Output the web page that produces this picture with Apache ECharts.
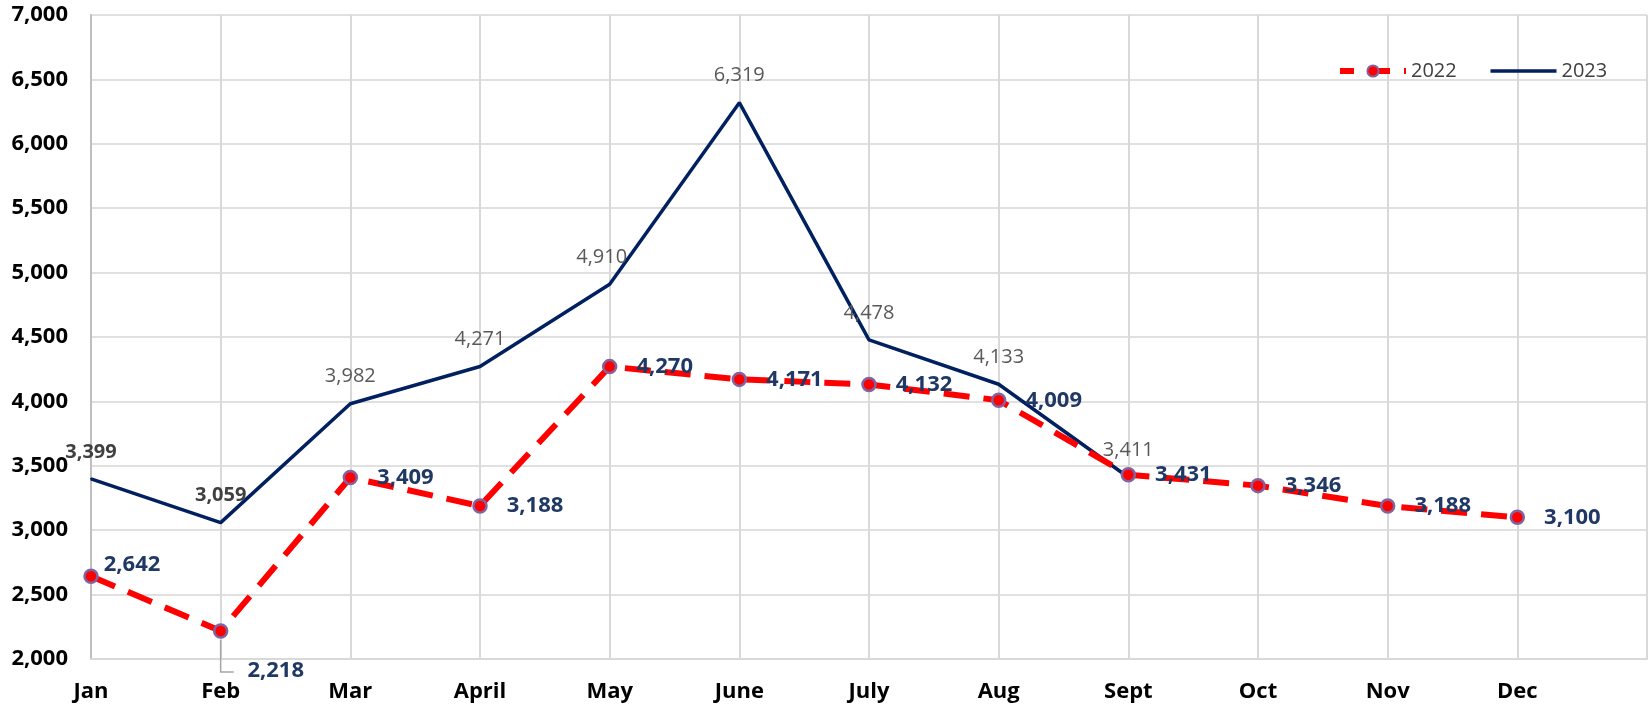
<!DOCTYPE html>
<html><head><meta charset="utf-8">
<script src="https://cdn.jsdelivr.net/npm/echarts@6/dist/echarts.min.js"></script>
<style>html,body{margin:0;padding:0;background:#fff}#c{width:1650px;height:709px}</style>
</head><body><div id="c"></div>
<script>
const months = ['Jan','Feb','Mar','April','May','June','July','Aug','Sept','Oct','Nov','Dec'];
const values2022 = [2642,2218,3409,3188,4270,4171,4132,4009,3431,3346,3188,3100];
const values2023 = [3399,3059,3982,4271,4910,6319,4478,4133,3411,null,null,null];
const seriesNames = ['2022','2023'];
const yMin = 2000, yMax = 7000, yStep = 500;

const fmt = v => Number(v).toLocaleString('en-US');
const FONT = '"Open Sans", Lato, sans-serif';

const chart = echarts.init(document.getElementById('c'), null, {renderer:'canvas'});
const cats = months.concat(['']);

const data2023 = values2023.map((v,i) => {
  const d = {value: v};
  if (i < 2) d.label = {fontWeight: 'bold', color: '#404040'};
  if (i === 4) d.label = {offset: [-8, 0]};
  return d;
});
const data2022 = values2022.map((v,i) => {
  const d = {value: v};
  if (i === 0) d.label = {offset: [-14, -12]};
  if (i === 1) d.label = {offset: [0, 40]};
  return d;
});

chart.setOption({
  animation: false,
  backgroundColor: '#ffffff',
  grid: {left: 91, top: 15, right: -2, bottom: 50, containLabel: false},
  legend: {
    top: 56, left: 1332,
    itemWidth: 66, itemHeight: 14, itemGap: 32,
    textStyle: {fontFamily: FONT, fontSize: 20, color: '#404040'},
    data: [
      {name: seriesNames[0], lineStyle: {width: 6, type: [22, 14], dashOffset: 8}},
      {name: seriesNames[1], lineStyle: {width: 3.5}, itemStyle: {opacity: 0}}
    ]
  },
  xAxis: {
    type: 'category', data: cats, boundaryGap: false,
    axisLine: {show: true, lineStyle: {color: '#d9d9d9', width: 2}},
    axisTick: {show: false},
    splitLine: {show: true, lineStyle: {color: '#d9d9d9', width: 2}},
    axisLabel: {fontFamily: FONT, fontSize: 22, fontWeight: 'bold', color: '#000', margin: 22, interval: 0}
  },
  yAxis: {
    type: 'value', min: yMin, max: yMax, interval: yStep,
    axisLine: {show: true, lineStyle: {color: '#bfbfbf', width: 2}},
    axisTick: {show: false},
    splitLine: {show: true, lineStyle: {color: '#e0e0e0', width: 2}},
    axisLabel: {fontFamily: FONT, fontSize: 22, fontWeight: 'bold', color: '#000', margin: 23, formatter: fmt}
  },
  series: [
    {
      name: seriesNames[0], type: 'line', data: data2022, z: 3,
      symbol: 'circle', symbolSize: 13, showSymbol: true,
      itemStyle: {color: '#ff0000', borderColor: '#8064a2', borderWidth: 2.5},
      lineStyle: {color: '#ff0000', width: 6, type: [26, 14], cap: 'butt'},
      label: {show: true, position: 'right', distance: 19,
        fontFamily: FONT, fontSize: 22, fontWeight: 'bold', color: '#1f3864', formatter: p => fmt(p.value)}
    },
    {
      name: seriesNames[1], type: 'line', data: data2023, z: 2,
      symbol: 'circle', symbolSize: 2, showSymbol: true, connectNulls: false,
      itemStyle: {color: '#002060'},
      lineStyle: {color: '#002060', width: 3.5},
      label: {show: true, position: 'top', distance: 16,
        fontFamily: FONT, fontSize: 20, color: '#595959', formatter: p => p.value == null ? '' : fmt(p.value)}
    }
  ]
});

// leader line for the Feb 2022 label, positioned from the data via the axis scales
const fi = 1;
const p = chart.convertToPixel({seriesIndex: 0}, [fi, values2022[fi]]);
chart.setOption({
  graphic: [{
    type: 'polyline', silent: true, z: 10,
    shape: {points: [[p[0], p[1] + 9], [p[0], p[1] + 41], [p[0] + 13, p[1] + 41]]},
    style: {stroke: '#a6a6a6', lineWidth: 1.5, fill: null}
  }]
});
</script></body></html>
